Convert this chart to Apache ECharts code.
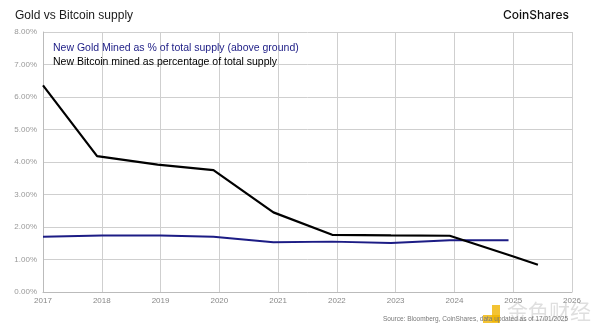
<!DOCTYPE html>
<html>
<head>
<meta charset="utf-8">
<script src="https://cdn.jsdelivr.net/npm/echarts@6/dist/echarts.min.js"></script>
<style>html,body{margin:0;padding:0;background:#fff}#c{width:600px;height:336px}</style>
</head>
<body>
<div id="c"></div>
<script>
var goldName = 'New Gold Mined as % of total supply (above ground)';
var btcName = 'New Bitcoin mined as percentage of total supply';
var goldX = [2017.0, 2018.0, 2019.0, 2019.9, 2020.92, 2021.92, 2022.92, 2023.92, 2024.92];
var goldY = [1.70, 1.74, 1.74, 1.70, 1.53, 1.55, 1.51, 1.59, 1.59];
var btcX = [2017.0, 2017.92, 2018.95, 2019.9, 2020.92, 2021.92, 2022.92, 2023.92, 2024.99, 2025.42];
var btcY = [6.36, 4.18, 3.92, 3.75, 2.45, 1.76, 1.74, 1.73, 1.10, 0.84];
var yearTicks = [2017, 2018, 2019, 2020, 2021, 2022, 2023, 2024, 2025, 2026];

function pairs(xs, ys) { return xs.map(function (x, i) { return [x, ys[i]]; }); }

var chart = echarts.init(document.getElementById('c'));
var font = '"Liberation Sans", Arial, sans-serif';
chart.setOption({
  animation: false,
  textStyle: { fontFamily: font },
  grid: { left: 43, right: 28, top: 32, bottom: 44 },
  title: [
    { text: 'Gold vs Bitcoin supply', left: 10, top: 5,
      textStyle: { fontSize: 12, fontWeight: 'normal', color: '#1a1a1a', fontFamily: font } },
    { text: 'CoinShares', right: 26, top: 4,
      textStyle: { fontSize: 12, fontWeight: 500, color: '#111', fontFamily: 'Inter, sans-serif' } },
    { text: 'Source: Bloomberg, CoinShares, data updated as of 17/01/2025', right: 27, top: 311,
      textStyle: { fontSize: 6.5, fontWeight: 'normal', color: '#777', fontFamily: font } }
  ],
  legend: {
    orient: 'vertical', left: 43, top: 38, itemWidth: 0, itemHeight: 0, itemGap: 3,
    icon: 'none', selectedMode: false,
    textStyle: { fontSize: 10.5, fontFamily: font, padding: [0, 0, 0, 0] },
    data: [
      { name: goldName, textStyle: { color: '#1c1c85' } },
      { name: btcName, textStyle: { color: '#000' } }
    ]
  },
  xAxis: {
    type: 'value', min: 2017, max: 2026, interval: 1,
    axisLine: { show: true, lineStyle: { color: '#bbb' } },
    axisTick: { show: false },
    splitLine: { show: true, lineStyle: { color: '#cfcfcf', width: 1 } },
    axisLabel: { fontSize: 8, color: '#888', margin: 5, fontFamily: font,
      formatter: function (v) { return yearTicks.indexOf(v) >= 0 ? String(v) : ''; } }
  },
  yAxis: {
    type: 'value', min: 0, max: 8, interval: 1,
    axisLine: { show: true, lineStyle: { color: '#bbb' } },
    axisTick: { show: false },
    splitLine: { show: true, lineStyle: { color: '#cfcfcf', width: 1 } },
    axisLabel: { fontSize: 8, color: '#999', margin: 6, fontFamily: font,
      formatter: function (v) { return v.toFixed(2) + '%'; } }
  },
  series: [
    { name: goldName, type: 'line', data: pairs(goldX, goldY), showSymbol: false,
      lineStyle: { color: '#1c1c85', width: 2 }, itemStyle: { color: '#1c1c85' } },
    { name: btcName, type: 'line', data: pairs(btcX, btcY), showSymbol: false,
      lineStyle: { color: '#000', width: 2.2 }, itemStyle: { color: '#000' } }
  ],
  graphic: [
    { type: 'rect', left: 492, top: 305, shape: { width: 8, height: 17 }, style: { fill: '#f0b400', opacity: 0.8 } },
    { type: 'rect', left: 483, top: 315, shape: { width: 17, height: 8 }, style: { fill: '#f0b400', opacity: 0.8 } },
    { type: 'text', left: 507, top: 301, style: { text: '金色财经', fontSize: 21, fill: 'rgba(150,150,150,0.3)', fontFamily: '"Noto Sans CJK SC", sans-serif' } }
  ]
});
</script>
</body>
</html>
